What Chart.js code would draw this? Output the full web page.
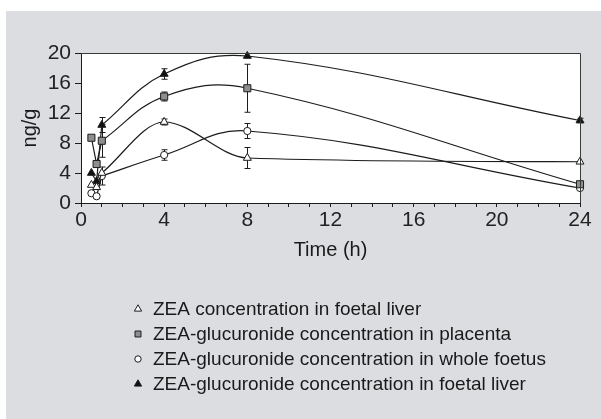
<!DOCTYPE html>
<html>
<head>
<meta charset="utf-8">
<title>ZEA and ZEA-glucuronide</title>
<script src="https://cdn.jsdelivr.net/npm/chart.js@4.4.1/dist/chart.umd.min.js"></script>
<style>
  html, body { margin: 0; padding: 0; background: #fff; }
  #wrap { width: 601px; height: 419px; }
</style>
</head>
<body>
<div id="wrap"><canvas id="chart" width="601" height="419"></canvas></div>
<script>
// Donnees (ng/g) en fonction du temps (h)
const times = [0.5, 0.75, 1, 4, 8, 24];

const zeaLiver = [2.4, 2.1, 4.0, 10.8, 6.0, 5.5];
const zeaLiverErr = [0, 0, 0, 0.4, 1.4, 0];

const glucPlacenta = [8.7, 5.2, 8.3, 14.2, 15.3, 2.5];
const glucPlacentaErr = [0, 0, 2.2, 0.6, 3.2, 0.2];

const glucFoetus = [1.3, 0.9, 3.6, 6.4, 9.6, 2.0];
const glucFoetusErr = [0, 0, 1.2, 0.7, 1.0, 0];

const glucLiver = [4.0, 2.9, 10.4, 17.2, 19.6, 11.0];
const glucLiverErr = [0, 0, 1.0, 0.7, 0, 0.3];

const seriesLabels = [
    'ZEA concentration in foetal liver',
    'ZEA-glucuronide concentration in placenta',
    'ZEA-glucuronide concentration in whole foetus',
    'ZEA-glucuronide concentration in foetal liver'
];

const xMax = 24;
const xLabelStep = 4;
const yMax = 20;
const yStep = 4;

// Styles des marqueurs et des courbes
const INK = '#1c1c1c';
const markerStyles = [
    { pointStyle: 'triangle', fill: '#ffffff', radius: 4.6, curve: 'monotone' },
    { pointStyle: 'rect', fill: '#8e8e8e', radius: 5, curve: 'default' },
    { pointStyle: 'circle', fill: '#ffffff', radius: 3.6, curve: 'default' },
    { pointStyle: 'triangle', fill: '#111111', radius: 4.6, curve: 'default' }
];

const seriesValues = [zeaLiver, glucPlacenta, glucFoetus, glucLiver];
const seriesErrors = [zeaLiverErr, glucPlacentaErr, glucFoetusErr, glucLiverErr];

// Police etroite pour les graduations si elle est installee
function hasFont(name) {
    const ctx = document.createElement('canvas').getContext('2d');
    ctx.font = '40px monospace';
    const base = ctx.measureText('0123456789 ng').width;
    ctx.font = `40px '${name}', monospace`;
    return ctx.measureText('0123456789 ng').width !== base;
}
const narrow = hasFont('Liberation Sans Narrow');
const tickFont = narrow
    ? { family: "'Liberation Sans Narrow', 'Liberation Sans', Arial, sans-serif", size: 23, lineHeight: 1 }
    : { family: "'Liberation Sans', Arial, sans-serif", size: 21, lineHeight: 1 };
const textFamily = "'Liberation Sans', Arial, sans-serif";

function toPoints(values, from) {
    return times.slice(from).map((t, i) => ({ x: t, y: values[i + from] }));
}

// Pour chaque serie : les marqueurs (segments droits au debut) et la courbe lissee a partir de 1 h
const datasets = [];
seriesValues.forEach((values, s) => {
    const st = markerStyles[s];
    datasets.push({
        label: seriesLabels[s],
        data: toPoints(values, 0),
        borderColor: INK,
        borderWidth: 1.2,
        tension: 0,
        pointStyle: st.pointStyle,
        pointRadius: st.radius,
        pointHoverRadius: st.radius,
        pointBackgroundColor: st.fill,
        pointBorderColor: INK,
        pointBorderWidth: 1,
        clip: false,
        order: s,
        segment: {
            borderColor: ctx => ctx.p0.parsed.x >= 1 ? 'rgba(0,0,0,0)' : undefined
        }
    });
    datasets.push({
        label: seriesLabels[s] + ' (courbe)',
        data: toPoints(values, 2),
        borderColor: INK,
        borderWidth: 1.2,
        tension: 0.4,
        cubicInterpolationMode: st.curve,
        pointRadius: 0,
        pointHoverRadius: 0,
        clip: false,
        order: 10 + s
    });
});

// Fond gris, zone de trace blanche, cadre et legende
const panelPlugin = {
    id: 'panel',
    beforeDraw(chart) {
        const { ctx, chartArea: a, width, height } = chart;
        ctx.save();
        ctx.fillStyle = '#ffffff';
        ctx.fillRect(0, 0, width, height);
        ctx.fillStyle = '#dcdde0';
        ctx.fillRect(6, 11, width - 6, height - 11);
        ctx.fillStyle = '#ffffff';
        ctx.fillRect(a.left, a.top, a.right - a.left, a.bottom - a.top);
        ctx.restore();
    },
    afterDraw(chart) {
        const { ctx, chartArea: a } = chart;
        ctx.save();
        ctx.strokeStyle = '#3a3a3a';
        ctx.lineWidth = 1;
        ctx.beginPath();
        ctx.moveTo(a.left, a.top + 0.5);
        ctx.lineTo(a.right + 0.5, a.top + 0.5);
        ctx.lineTo(a.right + 0.5, a.bottom);
        ctx.stroke();

        // Legende
        const lx = 138, tx = 153, y0 = 309, dy = 25;
        ctx.font = `19px ${textFamily}`;
        ctx.textBaseline = 'middle';
        ctx.textAlign = 'left';
        seriesLabels.forEach((label, s) => {
            const st = markerStyles[s];
            const y = y0 + s * dy;
            ctx.fillStyle = st.fill;
            ctx.strokeStyle = INK;
            ctx.lineWidth = 1;
            Chart.helpers.drawPoint(ctx, {
                pointStyle: st.pointStyle,
                radius: st.pointStyle === 'circle' ? 3.2 : 4.2,
                rotation: 0,
                borderWidth: 1
            }, lx, y);
            ctx.fillStyle = '#1a1a1a';
            ctx.fillText(label, tx, y + 1);
        });
        ctx.restore();
    }
};

// Barres d'erreur sous les marqueurs
const errorBarPlugin = {
    id: 'errorBars',
    beforeDatasetsDraw(chart) {
        const { ctx, scales: { x, y } } = chart;
        ctx.save();
        ctx.strokeStyle = INK;
        ctx.lineWidth = 1;
        seriesValues.forEach((values, s) => {
            seriesErrors[s].forEach((e, i) => {
                if (!e) return;
                const px = Math.round(x.getPixelForValue(times[i])) + 0.5;
                const top = y.getPixelForValue(values[i] + e);
                const bot = y.getPixelForValue(values[i] - e);
                ctx.beginPath();
                ctx.moveTo(px, top);
                ctx.lineTo(px, bot);
                ctx.moveTo(px - 3, top);
                ctx.lineTo(px + 3, top);
                ctx.moveTo(px - 3, bot);
                ctx.lineTo(px + 3, bot);
                ctx.stroke();
            });
        });
        ctx.restore();
    }
};

new Chart(document.getElementById('chart'), {
    type: 'line',
    data: { datasets },
    plugins: [panelPlugin, errorBarPlugin],
    options: {
        responsive: false,
        animation: false,
        events: [],
        layout: { padding: { left: 18, top: 53, right: 21, bottom: 157 } },
        plugins: {
            legend: { display: false },
            tooltip: { enabled: false }
        },
        scales: {
            x: {
                type: 'linear',
                min: 0,
                max: xMax,
                grid: { drawOnChartArea: false, tickLength: 4, tickColor: INK },
                border: { color: INK, width: 1 },
                ticks: {
                    stepSize: 1,
                    autoSkip: false,
                    maxRotation: 0,
                    padding: 3,
                    color: '#222',
                    font: tickFont,
                    callback: v => v % xLabelStep === 0 ? String(v) : ''
                },
                title: {
                    display: true,
                    text: 'Time (h)',
                    color: '#1a1a1a',
                    padding: 0,
                    font: { family: textFamily, size: 20, lineHeight: 1.2 }
                },
                afterFit(scale) {
                    scale.height = 59;
                    scale.paddingLeft = 0;
                    scale.paddingRight = 0;
                }
            },
            y: {
                min: 0,
                max: yMax,
                grid: { drawOnChartArea: false, tickLength: 6, tickColor: INK },
                border: { color: INK, width: 1 },
                ticks: {
                    stepSize: yStep,
                    padding: 4,
                    color: '#222',
                    font: tickFont
                },
                title: {
                    display: true,
                    text: 'ng/g',
                    color: '#1a1a1a',
                    padding: 0,
                    font: { family: textFamily, size: 20, lineHeight: 1.2 }
                },
                afterFit(scale) {
                    scale.width = 63;
                    scale.paddingTop = 0;
                    scale.paddingBottom = 0;
                }
            }
        }
    }
});
</script>
</body>
</html>
